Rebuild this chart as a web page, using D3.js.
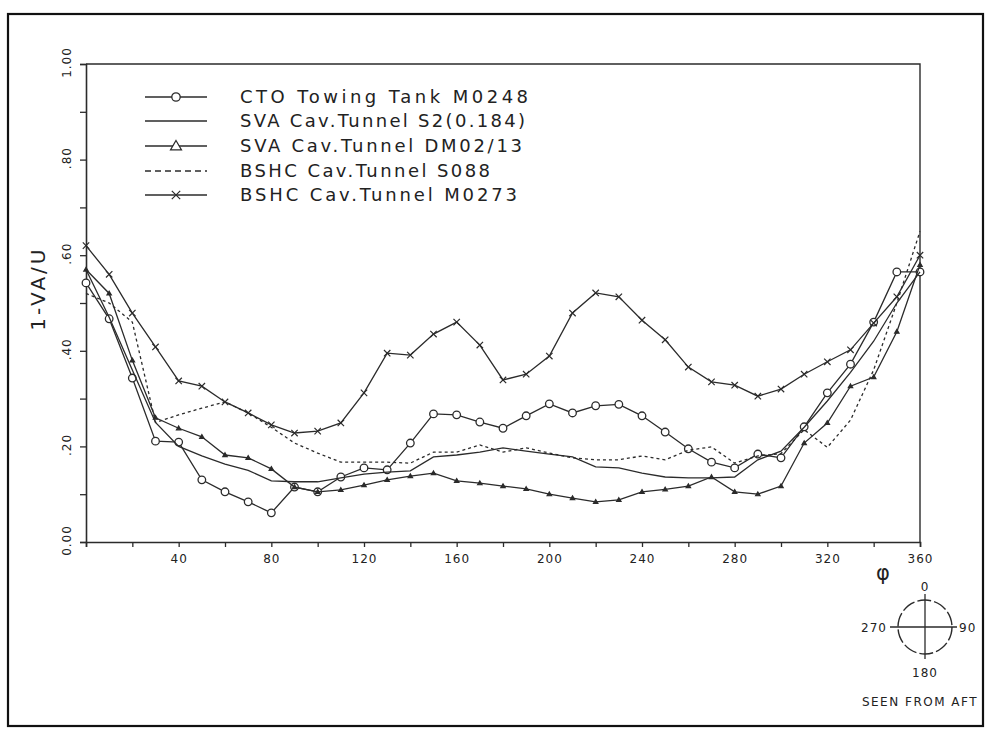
<!DOCTYPE html>
<html>
<head>
<meta charset="utf-8">
<script src="https://cdn.jsdelivr.net/npm/d3@7"></script>
<style>
  body { margin: 0; background: #fff; }
  text { font-family: "DejaVu Sans", sans-serif; fill: #222; }
</style>
</head>
<body>
<script>
// angle steps, 0..360 every 10 deg
const angles = d3.range(0, 361, 10)

const ctoM0248 = [0.542, 0.467, 0.343, 0.211, 0.209, 0.130, 0.105, 0.084, 0.061, 0.115,
  0.105, 0.136, 0.155, 0.151, 0.207, 0.268, 0.266, 0.251, 0.238, 0.264,
  0.289, 0.270, 0.285, 0.288, 0.264, 0.230, 0.195, 0.167, 0.155, 0.184,
  0.176, 0.241, 0.312, 0.372, 0.460, 0.565, 0.565]

const svaS2 = [0.570, 0.470, 0.360, 0.250, 0.200, 0.180, 0.163, 0.150, 0.128, 0.126,
  0.126, 0.134, 0.142, 0.146, 0.149, 0.178, 0.182, 0.188, 0.197, 0.190,
  0.184, 0.178, 0.157, 0.155, 0.144, 0.136, 0.134, 0.134, 0.136, 0.172,
  0.190, 0.240, 0.295, 0.355, 0.420, 0.500, 0.565]

const svaDM0213 = [0.570, 0.520, 0.380, 0.260, 0.238, 0.220, 0.182, 0.176, 0.153, 0.115,
  0.105, 0.109, 0.119, 0.130, 0.138, 0.144, 0.128, 0.123, 0.117, 0.111,
  0.100, 0.092, 0.084, 0.088, 0.105, 0.110, 0.117, 0.136, 0.105, 0.100,
  0.117, 0.207, 0.249, 0.326, 0.345, 0.440, 0.580]

const bshcS088 = [0.520, 0.500, 0.460, 0.250, 0.266, 0.280, 0.293, 0.270, 0.240, 0.207,
  0.186, 0.167, 0.167, 0.167, 0.165, 0.188, 0.188, 0.203, 0.188, 0.197,
  0.186, 0.176, 0.172, 0.172, 0.180, 0.172, 0.192, 0.199, 0.165, 0.180,
  0.185, 0.235, 0.198, 0.255, 0.360, 0.500, 0.650]

const bshcM0273 = [0.620, 0.560, 0.479, 0.408, 0.337, 0.326, 0.293, 0.270, 0.245, 0.228,
  0.232, 0.249, 0.312, 0.395, 0.391, 0.435, 0.460, 0.412, 0.339, 0.351,
  0.389, 0.479, 0.521, 0.513, 0.464, 0.423, 0.366, 0.335, 0.328, 0.305,
  0.320, 0.351, 0.377, 0.402, 0.458, 0.513, 0.600]

const seriesNames = [
  'CTO Towing Tank  M0248',
  'SVA Cav.Tunnel S2(0.184)',
  'SVA Cav.Tunnel DM02/13',
  'BSHC Cav.Tunnel S088',
  'BSHC Cav.Tunnel M0273'
]
const seriesValues = [ctoM0248, svaS2, svaDM0213, bshcS088, bshcM0273]
const seriesMarkers = ['circle', 'none', 'triangle', 'none', 'cross']
const seriesDash = [null, null, null, '3,3', null]

const xTicks = d3.range(0, 361, 20)
const xLabels = ['', '40', '80', '120', '160', '200', '240', '280', '320', '360']
const yTicks = d3.range(0, 11).map(d => d / 10)
const yLabels = ['0.00', '.20', '.40', '.60', '.80', '1.00']

const W = 993, H = 730
const INK = '#2b2b2b'

const svg = d3.select('body').append('svg')
  .attr('width', W)
  .attr('height', H)

// outer frame
svg.append('rect')
  .attr('x', 8).attr('y', 14)
  .attr('width', 975).attr('height', 712)
  .attr('fill', 'none')
  .attr('stroke', '#111')
  .attr('stroke-width', 2.2)

const plot = { left: 86, right: 920, top: 64, bottom: 542 }

const x = d3.scaleLinear().domain([0, 360]).range([plot.left, plot.right])
const y = d3.scaleLinear().domain([0, 1]).range([plot.bottom, plot.top])

// top and right frame lines
svg.append('path')
  .attr('d', `M${plot.left},${plot.top}H${plot.right}V${plot.bottom}`)
  .attr('fill', 'none')
  .attr('stroke', INK)
  .attr('stroke-width', 1.4)

const xAxis = svg.append('g')
  .attr('transform', `translate(0,${plot.bottom})`)
  .call(d3.axisBottom(x)
    .tickValues(xTicks)
    .tickSize(5)
    .tickFormat(d => d % 40 == 0 ? xLabels[d / 40] : ''))
xAxis.select('.domain').attr('stroke', INK).attr('stroke-width', 1.6)
xAxis.selectAll('.tick line').attr('stroke', INK).attr('stroke-width', 1.3)
xAxis.selectAll('.tick text')
  .attr('dy', '1.1em')
  .style('font-size', '12px')
  .style('letter-spacing', '1px')
  .attr('fill', '#222')

const yAxis = svg.append('g')
  .attr('transform', `translate(${plot.left},0)`)
  .call(d3.axisLeft(y)
    .tickValues(yTicks)
    .tickSize(6)
    .tickFormat(d => {
      const k = Math.round(d * 10)
      return k % 2 == 0 ? yLabels[k / 2] : ''
    }))
yAxis.select('.domain').attr('stroke', INK).attr('stroke-width', 1.6)
yAxis.selectAll('.tick line').attr('stroke', INK).attr('stroke-width', 1.3)
yAxis.selectAll('.tick text')
  .attr('x', 0).attr('dy', 0)
  .attr('transform', 'translate(-15,-2) rotate(-90)')
  .attr('text-anchor', 'middle')
  .style('font-size', '12px')
  .style('letter-spacing', '1px')
  .attr('fill', '#222')

// axis titles
svg.append('text')
  .attr('transform', `translate(45,${y(0.53)}) rotate(-90)`)
  .attr('text-anchor', 'middle')
  .style('font-size', '20px')
  .style('letter-spacing', '3px')
  .text('1-VA/U')

svg.append('text')
  .attr('x', 883).attr('y', 580)
  .attr('text-anchor', 'middle')
  .style('font-size', '21px')
  .text('φ')

// markers
const drawMarker = (g, kind, px, py, s, open) => {
  if (kind == 'circle') {
    g.append('circle')
      .attr('cx', px).attr('cy', py).attr('r', s)
      .attr('fill', '#fff').attr('stroke', INK).attr('stroke-width', 1.3)
  } else if (kind == 'triangle') {
    g.append('path')
      .attr('d', `M${px},${py - s}L${px + s},${py + s * 0.7}L${px - s},${py + s * 0.7}Z`)
      .attr('fill', open ? '#fff' : INK).attr('stroke', INK).attr('stroke-width', 1.2)
  } else if (kind == 'cross') {
    g.append('path')
      .attr('d', `M${px - s},${py - s}L${px + s},${py + s}M${px - s},${py + s}L${px + s},${py - s}`)
      .attr('stroke', INK).attr('stroke-width', 1.2)
  }
}

const line = d3.line()
  .x((d, i) => x(angles[i]))
  .y(d => y(d))

const markerSize = { circle: 3.8, triangle: 2.2, cross: 3.2 }

seriesValues.forEach((vals, si) => {
  const g = svg.append('g')
  g.append('path')
    .datum(vals)
    .attr('d', line)
    .attr('fill', 'none')
    .attr('stroke', INK)
    .attr('stroke-width', 1.3)
    .attr('stroke-dasharray', seriesDash[si])
  const kind = seriesMarkers[si]
  if (kind != 'none') {
    vals.forEach((v, i) => drawMarker(g, kind, x(angles[i]), y(v), markerSize[kind], false))
  }
})

// legend
const legendRows = [97, 121, 146, 171, 195]
const legendLen = [288, 285, 282, 250, 277]
const legend = svg.append('g')
seriesNames.forEach((name, i) => {
  const ly = legendRows[i]
  legend.append('line')
    .attr('x1', 145).attr('x2', 207)
    .attr('y1', ly).attr('y2', ly)
    .attr('stroke', INK)
    .attr('stroke-width', 1.6)
    .attr('stroke-dasharray', seriesDash[i] ? '6,4' : null)
  const kind = seriesMarkers[i]
  if (kind != 'none') drawMarker(legend, kind, 176, ly, kind == 'triangle' ? 5.5 : 4.2, true)
  legend.append('text')
    .attr('x', 240).attr('y', ly + 6)
    .attr('textLength', legendLen[i])
    .attr('lengthAdjust', 'spacing')
    .style('font-size', '18px')
    .text(name)
})

// orientation sketch
const cx = 925, cy = 627, r = 27
const comp = svg.append('g')
comp.append('circle')
  .attr('cx', cx).attr('cy', cy).attr('r', r)
  .attr('fill', 'none').attr('stroke', INK)
  .attr('stroke-width', 1.4).attr('stroke-dasharray', '14,3')
comp.append('path')
  .attr('d', `M${cx - 35},${cy}H${cx + 32}M${cx},${cy - 33}V${cy + 32}`)
  .attr('stroke', INK).attr('stroke-width', 1.3)
const compLabels = [
  { t: '0', x: cx, y: cy - 36, a: 'middle' },
  { t: '270', x: cx - 38, y: cy + 5, a: 'end' },
  { t: '90', x: cx + 34, y: cy + 5, a: 'start' },
  { t: '180', x: cx, y: cy + 50, a: 'middle' }
]
compLabels.forEach(l => {
  comp.append('text')
    .attr('x', l.x).attr('y', l.y)
    .attr('text-anchor', l.a)
    .style('font-size', '12px')
    .style('letter-spacing', '1px')
    .text(l.t)
})
comp.append('text')
  .attr('x', 920).attr('y', 706)
  .attr('text-anchor', 'middle')
  .style('font-size', '12px')
  .style('letter-spacing', '1.5px')
  .text('SEEN FROM AFT')
</script>
</body>
</html>
